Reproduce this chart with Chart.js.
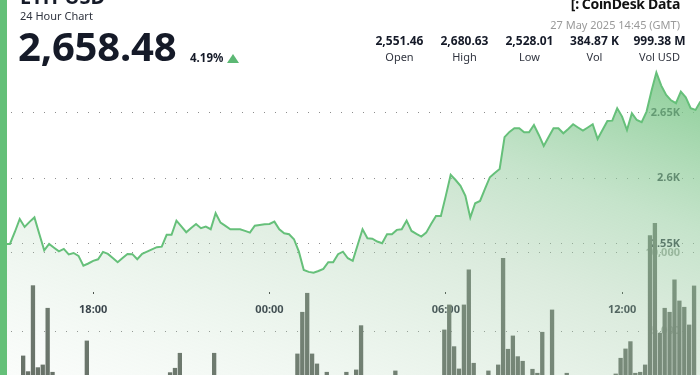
<!DOCTYPE html>
<html>
<head>
<meta charset="utf-8">
<title>ETH-USD 24 Hour Chart</title>
<script src="https://cdn.jsdelivr.net/npm/chart.js@4.4.1/dist/chart.umd.min.js"></script>
<style>
  html, body { margin: 0; padding: 0; background: #fff; }
  body {
    width: 700px; height: 375px; overflow: hidden; position: relative;
    font-family: 'Noto Sans', 'Open Sans', sans-serif; color: #151a28;
  }
  #chart-wrap { position: absolute; left: 0; top: 0; width: 700px; height: 410px; }
  .accent { position: absolute; left: 0; top: 0; width: 7px; height: 375px; background: #64c078; z-index: 3; }
  .hd { position: absolute; z-index: 2; line-height: 1; white-space: nowrap; }
  #pair   { left: 20px; top: -13px; font-size: 20px; font-weight: 700; }
  #sub    { left: 20px; top: 10px; font-size: 11px; color: #30343f; }
  #last   { left: 18px; top: 26px; font-size: 40px; font-weight: 700; letter-spacing: -0.2px; }
  #change { left: 190px; top: 51.5px; font-size: 11.5px; font-weight: 700; }
  #arrow  {
    left: 227px; top: 54px; width: 0; height: 0;
    border-left: 6px solid transparent; border-right: 6px solid transparent;
    border-bottom: 9px solid #5cb874;
  }
  #brand  { right: 20px; top: -3px; font-size: 14px; font-weight: 700; letter-spacing: -0.3px; color: #111; }
  #brand .mark { display: inline-block; font-size: 14px; margin-right: 3px; }
  #stamp  { right: 20px; top: 18.5px; font-size: 11px; color: #9a9a9a; }
  #stats  { left: 367px; top: 35px; display: flex; }
  #stats .col { width: 65px; text-align: center; }
  #stats .v { font-size: 12px; font-weight: 700; line-height: 1; }
  #stats .k { font-size: 11px; color: #30343f; line-height: 1; margin-top: 4px; }
</style>
</head>
<body>
<div class="accent"></div>
<div class="hd" id="pair">ETH-USD</div>
<div class="hd" id="sub">24 Hour Chart</div>
<div class="hd" id="last">2,658.48</div>
<div class="hd" id="change">4.19%</div>
<div class="hd" id="arrow"></div>
<div class="hd" id="brand"><span class="mark">[:</span>CoinDesk Data</div>
<div class="hd" id="stamp">27 May 2025 14:45 (GMT)</div>
<div class="hd" id="stats">
  <div class="col"><div class="v">2,551.46</div><div class="k">Open</div></div>
  <div class="col"><div class="v">2,680.63</div><div class="k">High</div></div>
  <div class="col"><div class="v">2,528.01</div><div class="k">Low</div></div>
  <div class="col"><div class="v">384.87 K</div><div class="k">Vol</div></div>
  <div class="col"><div class="v">999.38 M</div><div class="k">Vol USD</div></div>
</div>
<div id="chart-wrap"><canvas id="chart"></canvas></div>

<script>
'use strict';

// ── Data (10-minute steps, minutes counted from 00:00 on 27 May) ──
const START_MIN = -550;     // 14:50 on 26 May
const STEP_MIN = 10;
const BAR_SHIFT_MIN = -3;

const tickMinutes = [-360, 0, 360, 720];
const tickLabels  = ['18:00', '00:00', '06:00', '12:00'];
const priceTicks  = [2550, 2600, 2650];
const volumeTicks = [5000, 10000];

const prices = [
  2550.0, 2550.0, 2550.0, 2559.1, 2569.0, 2562.9, 2566.8, 2570.2, 2557.6, 2545.1,
  2550.0, 2547.1, 2544.3, 2546.2, 2542.0, 2543.1, 2540.9, 2533.5, 2535.1, 2537.1,
  2538.3, 2543.9, 2542.4, 2539.3, 2536.1, 2539.3, 2542.4, 2542.2, 2538.3, 2542.4,
  2544.1, 2545.8, 2547.5, 2547.9, 2556.9, 2556.9, 2567.7, 2563.3, 2558.9, 2562.2,
  2565.2, 2562.0, 2563.2, 2561.2, 2573.4, 2566.2, 2563.7, 2561.2, 2561.2, 2561.2,
  2559.9, 2558.6, 2563.9, 2564.5, 2565.0, 2565.2, 2567.0, 2561.2, 2558.1, 2557.4,
  2553.6, 2544.1, 2530.2, 2528.7, 2528.1, 2529.4, 2531.0, 2536.1, 2536.1, 2542.2,
  2544.1, 2539.1, 2537.1, 2549.2, 2561.2, 2554.3, 2554.0, 2551.8, 2550.5, 2557.4,
  2557.4, 2560.7, 2561.2, 2567.7, 2559.9, 2557.6, 2555.6, 2558.6, 2565.2, 2571.3,
  2571.3, 2586.6, 2602.6, 2598.7, 2594.2, 2586.6, 2570.0, 2581.0, 2582.7, 2591.9,
  2600.8, 2604.1, 2607.1, 2631.3, 2635.3, 2638.1, 2638.1, 2635.1, 2635.1, 2640.6,
  2633.0, 2624.6, 2631.5, 2638.1, 2638.1, 2634.3, 2637.6, 2641.2, 2638.7, 2636.3,
  2638.7, 2641.2, 2630.0, 2636.8, 2643.7, 2643.9, 2653.4, 2647.0, 2636.8, 2649.5,
  2644.4, 2642.7, 2650.8, 2666.5, 2680.6, 2670.6, 2663.5, 2659.4, 2657.2, 2666.0,
  2661.7, 2653.4, 2652.1, 2658.5
];

const volumes = [
  1600, 1900, 1400, 1200, 2100, 3456, 2459, 7922, 2713, 2884,
  6486, 2420, 1900, 1500, 1300, 1700, 1100, 2000, 4409, 1800,
  1200,  900, 1400, 1000, 1300,  800, 1100, 1500, 1200,  900,
  1000, 1300, 1600, 2000, 1800, 2395, 2674, 3627, 1900, 1400,
  1500, 1200, 1100, 1700, 3627, 1600, 1300, 1000,  900,  800,
  1100, 1200,  900, 1000, 1300, 1400, 1100, 1500, 1700, 1600,
  2100, 3583, 6232, 7439, 3583, 2948, 2000, 2420, 1800, 1600,
  1900, 2420, 1700, 2567, 5381, 1800, 1500, 1400, 1600, 1300,
  1700, 2503, 1500, 1900, 1400, 1200, 1300, 1600, 1800, 2000,
  2100, 5108, 6696, 4047, 2630, 6696, 8920, 2992, 1900, 2100,
  2503, 2000, 2884, 9663, 3882, 4727, 3412, 3119, 2000, 2611,
  2357, 4962, 1900, 6378, 1800, 1600, 2357, 1700, 1400, 1200,
  1300, 1100, 1500, 1000, 1200, 1600, 2312, 3310, 3901, 4365,
  2357, 2420, 2884, 11099, 11886, 4900, 6486, 6232, 8284, 6950,
  6550, 5425, 7903, 2000
];

// ── Styling ──
const LINE_GREEN = '#66c07a';
const INK        = '#1b2130';
const DOT_GREY   = '#8c8c8c';

Chart.defaults.font.family = "'Noto Sans', 'Open Sans', sans-serif";

// keep axes from eating into the plot: labels sit inside the chart area
function flatAxis(scale) {
  scale.paddingTop = 0;
  scale.paddingBottom = 0;
  scale.paddingLeft = 0;
  scale.paddingRight = 0;
  if (scale.axis === 'y') scale.width = 0;
}

function keepTicks(values) {
  return (scale) => { scale.ticks = values.map((v) => ({ value: v })); };
}

let cachedGradient = null;
function areaGradient(context) {
  const { chart } = context;
  const area = chart.chartArea;
  if (!area) return 'rgba(110,195,125,0.3)';
  if (cachedGradient) return cachedGradient;
  const g = chart.ctx.createLinearGradient(area.right, area.top + 60, area.right - 184, area.top + 568);
  g.addColorStop(0,    'rgba(110,195,125,0.85)');
  g.addColorStop(0.3,  'rgba(150,205,160,0.55)');
  g.addColorStop(0.48, 'rgba(165,205,170,0.4)');
  g.addColorStop(0.76, 'rgba(180,215,185,0.22)');
  g.addColorStop(1,    'rgba(200,225,205,0.08)');
  cachedGradient = g;
  return g;
}

const pricePoints  = prices.map((v, i) => ({ x: START_MIN + i * STEP_MIN, y: v }));
const volumePoints = volumes.map((v, i) => ({ x: START_MIN + i * STEP_MIN + BAR_SHIFT_MIN, y: v }));

new Chart(document.getElementById('chart'), {
  type: 'line',
  data: {
    datasets: [
      {
        type: 'line',
        data: pricePoints,
        xAxisID: 'x',
        yAxisID: 'price',
        borderColor: LINE_GREEN,
        borderWidth: 2,
        pointRadius: 0,
        tension: 0,
        fill: 'start',
        backgroundColor: areaGradient,
        order: 0,
      },
      {
        type: 'bar',
        data: volumePoints,
        xAxisID: 'x',
        yAxisID: 'vol',
        backgroundColor: '#5e665e',
        borderWidth: 0,
        barPercentage: 1,
        categoryPercentage: 0.88,
        order: 1,
      },
    ],
  },
  options: {
    responsive: true,
    maintainAspectRatio: false,
    animation: false,
    events: [],
    layout: { padding: 0 },
    plugins: { legend: { display: false }, tooltip: { enabled: false } },
    scales: {
      x: {
        type: 'linear',
        offset: false,
        min: -550.3,
        max: 879.1,
        position: { vol: 7500 },
        afterBuildTicks: keepTicks(tickMinutes),
        afterFit: flatAxis,
        ticks: {
          autoSkip: false,
          maxRotation: 0,
          padding: 9,
          color: INK,
          font: { size: 11, weight: 'bold' },
          callback: (v, i) => tickLabels[i],
        },
        grid: { offset: false, drawOnChartArea: false, drawTicks: true, tickLength: 2, tickColor: '#333' },
        border: { display: false },
      },
      price: {
        axis: 'y',
        type: 'linear',
        position: 'right',
        min: 2423.5,
        max: 2735.8,
        z: 1,
        afterBuildTicks: keepTicks(priceTicks),
        afterFit: flatAxis,
        ticks: {
          mirror: true,
          padding: -20,
          color: INK,
          font: { size: 11, weight: 'bold' },
          callback: (v) => (v / 1000) + 'K',
        },
        grid: { color: DOT_GREY, drawTicks: false },
        border: { display: false, dash: [1, 10] },
      },
      vol: {
        axis: 'y',
        type: 'linear',
        position: 'right',
        min: 0,
        max: 26048,
        z: 1,
        afterBuildTicks: keepTicks(volumeTicks),
        afterFit: flatAxis,
        ticks: {
          mirror: true,
          padding: -20,
          color: 'rgba(125,138,125,0.8)',
          font: { size: 11, weight: 'bold' },
          callback: (v) => v.toLocaleString('en-US'),
        },
        grid: { color: DOT_GREY, drawTicks: false },
        border: { display: false, dash: [1, 10] },
      },
    },
  },
});
</script>
</body>
</html>
